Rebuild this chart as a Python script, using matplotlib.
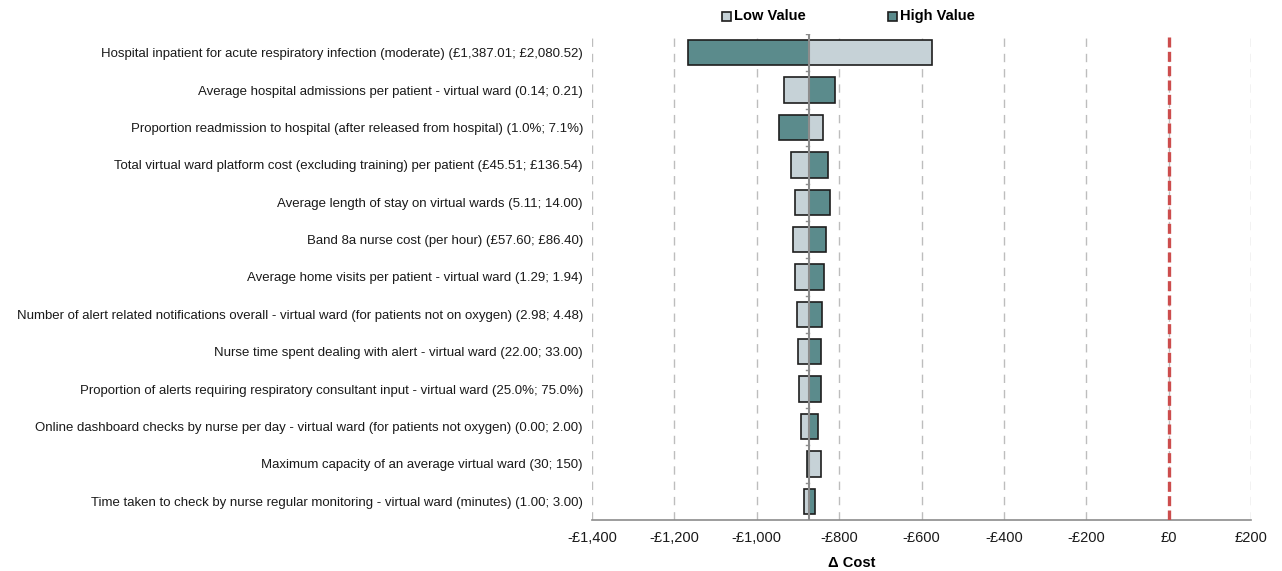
import numpy as np
import matplotlib.pyplot as plt
from matplotlib.patches import Rectangle

plt.rcParams['font.family'] = ['Liberation Sans', 'DejaVu Sans']

# tornado diagram: change in cost for low / high parameter values
labels = [
    "Hospital inpatient for acute respiratory infection (moderate) (£1,387.01; £2,080.52)",
    "Average hospital admissions per patient - virtual ward (0.14; 0.21)",
    "Proportion readmission to hospital (after released from hospital) (1.0%; 7.1%)",
    "Total virtual ward platform cost (excluding training) per patient (£45.51; £136.54)",
    "Average length of stay on virtual wards (5.11; 14.00)",
    "Band 8a nurse cost (per hour) (£57.60; £86.40)",
    "Average home visits per patient - virtual ward (1.29; 1.94)",
    "Number of alert related notifications overall - virtual ward (for patients not on oxygen) (2.98; 4.48)",
    "Nurse time spent dealing with alert - virtual ward (22.00; 33.00)",
    "Proportion of alerts requiring respiratory consultant input - virtual ward (25.0%; 75.0%)",
    "Online dashboard checks by nurse per day - virtual ward (for patients not oxygen) (0.00; 2.00)",
    "Maximum capacity of an average virtual ward (30; 150)",
    "Time taken to check by nurse regular monitoring - virtual ward (minutes) (1.00; 3.00)",
]
base = -874
low_vals = [-575, -933, -838, -918, -907, -911, -907, -902, -901, -898, -892, -845, -886]
high_vals = [-1167, -811, -945, -826, -823, -832, -836, -842, -843, -844, -851, -879, -858]

xticks = [-1400, -1200, -1000, -800, -600, -400, -200, 0, 200]
xticklabels = ["-£1,400", "-£1,200", "-£1,000", "-£800", "-£600", "-£400", "-£200", "£0", "£200"]

light = '#c6d2d7'
dark = '#5b8b8c'
edge = '#1e1e1e'

fig = plt.figure(figsize=(12.82, 5.71), dpi=100)
ax = fig.add_axes([592/1282, 1 - 520/571, (1251-592)/1282, (520-34)/571])

y = np.arange(len(labels))
low = np.array(low_vals) - base
high = np.array(high_vals) - base
ax.barh(y, low, left=base, height=0.68, color=light, edgecolor=edge, linewidth=1.2, zorder=3)
ax.barh(y, high, left=base, height=0.68, color=dark, edgecolor=edge, linewidth=1.2, zorder=3)

# grid + zero line
for xt in xticks:
    ax.axvline(xt, color='#bdbdbd', lw=1, dashes=(6, 5), zorder=1)
ax.axvline(0, color='#cc4d4d', lw=2.4, dashes=(3, 1.3), zorder=4)

# vertical axis at the base case
ax.axvline(base, color='#8c8c8c', lw=1.5, zorder=5)
for b in np.arange(-0.5, len(labels), 1):
    ax.plot([base - 6, base], [b, b], color='#8c8c8c', lw=1, zorder=5)

ax.set_xlim(-1400, 200)
ax.set_ylim(len(labels) - 0.5, -0.5)
ax.set_yticks(y)
ax.set_yticklabels(labels, fontsize=9.52, color='#1a1a1a')
ax.set_xticks(xticks)
ax.set_xticklabels(xticklabels, fontsize=10.5, color='#1a1a1a')
ax.tick_params(axis='y', length=0, pad=6.5)
ax.tick_params(axis='x', length=0, pad=8)
for s in ['top', 'right', 'left']:
    ax.spines[s].set_visible(False)
ax.spines['bottom'].set_color('#8c8c8c')
ax.spines['bottom'].set_linewidth(1.2)

fig.text(852/1282, 1 - 563/571, "Δ Cost", ha='center', va='center', fontsize=10.5, fontweight='bold')

# legend
for x0, col, txt in [(722, light, "Low Value"), (888, dark, "High Value")]:
    fig.patches.append(Rectangle((x0/1282, 1 - 21/571), 9/1282, 9/571, transform=fig.transFigure,
                                 facecolor=col, edgecolor=edge, lw=1.2))
    fig.text((x0 + 12)/1282, 1 - 16/571, txt, ha='left', va='center', fontsize=10.5, fontweight='bold')

fig.savefig('out.png', dpi=100)
